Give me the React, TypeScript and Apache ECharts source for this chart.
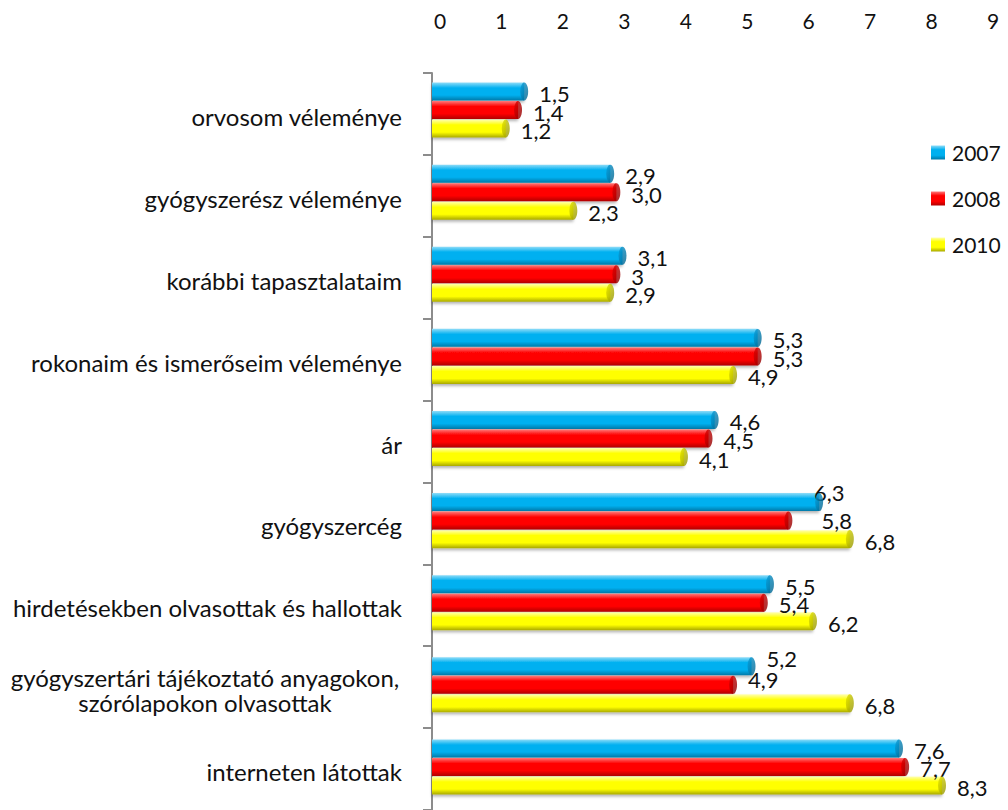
import React, { useEffect, useRef } from 'react';
import * as echarts from 'echarts';

const categories = [
  'orvosom véleménye',
  'gyógyszerész véleménye',
  'korábbi tapasztalataim',
  'rokonaim és ismerőseim véleménye',
  'ár',
  'gyógyszercég',
  'hirdetésekben olvasottak és hallottak',
  'gyógyszertári tájékoztató anyagokon,\nszórólapokon olvasottak',
  'interneten látottak',
];
const years = ['2007', '2008', '2010'];
const values2007 = [1.5, 2.9, 3.1, 5.3, 4.6, 6.3, 5.5, 5.2, 7.6];
const values2008 = [1.4, 3.0, 3.0, 5.3, 4.5, 5.8, 5.4, 4.9, 7.7];
const values2010 = [1.2, 2.3, 2.9, 4.9, 4.1, 6.8, 6.2, 6.8, 8.3];
const labels2007 = ['1,5', '2,9', '3,1', '5,3', '4,6', '6,3', '5,5', '5,2', '7,6'];
const labels2008 = ['1,4', '3,0', '3', '5,3', '4,5', '5,8', '5,4', '4,9', '7,7'];
const labels2010 = ['1,2', '2,3', '2,9', '4,9', '4,1', '6,8', '6,2', '6,8', '8,3'];
const xMin = 0;
const xMax = 9;
const xInterval = 1;

// styling (not data)
const FONT = 'Lato';
const TEXT = '#111111';
const palettes = [
  { top: '#8fdcf8', mid: '#00b0f0', bot: '#0079a8', cap: ['#0aa0dc', '#005f88'] },
  { top: '#ff7a7a', mid: '#ff0000', bot: '#b00000', cap: ['#e00000', '#8a0000'] },
  { top: '#ffffb0', mid: '#ffff00', bot: '#a8a800', cap: ['#e6e600', '#8f8f00'] },
];
const barOffsets = [-18.5, 0, 18.5];
const labelOffsets: Record<number, Record<number, number[]>> = {
  0: { 5: [-20, -10], 7: [0, -8] },
  1: { 5: [18, 0], 7: [0, -5] },
  2: {},
};

const App = () => {
  const ref = useRef<HTMLDivElement>(null);
  useEffect(() => {
    const chart = echarts.init(ref.current!, null, { renderer: 'svg' });
    const seriesValues = [values2007, values2008, values2010];
    const seriesLabels = [labels2007, labels2008, labels2010];

    const bars = years.map((y, s) => {
      const p = palettes[s];
      return {
        name: y,
        type: 'bar',
        xAxisIndex: 1,
        yAxisIndex: 1,
        barWidth: 18,
        barGap: '3%',
        barCategoryGap: '32%',
        z: 2,
        itemStyle: {
          color: new echarts.graphic.LinearGradient(0, 0, 0, 1, [
            { offset: 0, color: p.top },
            { offset: 0.3, color: p.mid },
            { offset: 0.7, color: p.mid },
            { offset: 1, color: p.bot },
          ]),
          shadowColor: 'rgba(0,0,0,0.3)',
          shadowBlur: 3,
          shadowOffsetY: 2,
        },
        label: {
          show: true,
          position: 'right',
          distance: 15,
          offset: [0, 2],
          fontFamily: FONT,
          fontSize: 22,
          color: TEXT,
          formatter: (pp: any) => seriesLabels[s][pp.dataIndex],
        },
        data: seriesValues[s].map((v, i) => {
          const o = labelOffsets[s][i];
          return o ? { value: v, label: { offset: o } } : v;
        }),
      };
    });

    const caps = years.map((y, s) => {
      const p = palettes[s];
      return {
        name: y + ' cap',
        type: 'scatter',
        xAxisIndex: 1,
        yAxisIndex: 1,
        symbol: 'circle',
        symbolSize: [8, 18],
        symbolOffset: [0, barOffsets[s]],
        silent: true,
        z: 3,
        itemStyle: {
          color: new echarts.graphic.LinearGradient(0, 0, 1, 1, [
            { offset: 0, color: p.cap[0] },
            { offset: 1, color: p.cap[1] },
          ]),
        },
        data: seriesValues[s].map((v, i) => [v, categories[i]]),
      };
    });

    const option: any = {
      animation: false,
      backgroundColor: '#ffffff',
      legend: {
        data: years,
        orient: 'vertical',
        left: 931,
        top: 142,
        padding: 0,
        itemWidth: 14,
        itemHeight: 14,
        itemGap: 25,
        icon: 'rect',
        textStyle: { fontFamily: FONT, fontSize: 21, color: TEXT, lineHeight: 20, padding: [0, 0, 0, 2] },
      },
      grid: [
        { left: 432, right: 23, top: 73, height: 739 },
        { left: 432, right: 23, top: 69, height: 739 },
      ],
      xAxis: [
        {
          gridIndex: 0,
          type: 'value',
          position: 'top',
          min: xMin,
          max: xMax,
          interval: xInterval,
          axisLine: { show: false },
          axisTick: { show: false },
          splitLine: { show: false },
          axisLabel: {
            margin: 42,
            fontFamily: FONT,
            fontSize: 21,
            color: TEXT,
            padding: [0, 0, 0, 16],
          },
        },
        {
          gridIndex: 1,
          type: 'value',
          min: xMin,
          max: xMax,
          interval: xInterval,
          show: false,
        },
      ],
      yAxis: [
        {
          gridIndex: 0,
          type: 'category',
          inverse: true,
          data: categories,
          offset: 5,
          axisLine: { show: true, lineStyle: { color: '#8c8c8c', width: 2 } },
          axisTick: { show: true, length: 9, lineStyle: { color: '#8c8c8c', width: 2 } },
          axisLabel: {
            margin: 25,
            fontFamily: FONT,
            fontSize: 24,
            color: TEXT,
            lineHeight: 25,
            padding: [5, 0, 0, 0],
            formatter: (v: string) =>
              v.indexOf('\n') >= 0
                ? v.split('\n').map((l) => '{c|' + l + '}').join('\n')
                : v,
            rich: {
              c: { width: 394, align: 'center', fontFamily: FONT, fontSize: 24, color: TEXT, lineHeight: 25 },
            },
          },
        },
        {
          gridIndex: 1,
          type: 'category',
          inverse: true,
          data: categories,
          show: false,
        },
      ],
      series: [...bars, ...caps],
    };
    chart.setOption(option);
    return () => chart.dispose();
  }, []);
  return (
    <div
      ref={ref}
      style={{ position: 'fixed', left: 0, top: 0, width: 1008, height: 810, background: '#fff' }}
    />
  );
};

export default App;
